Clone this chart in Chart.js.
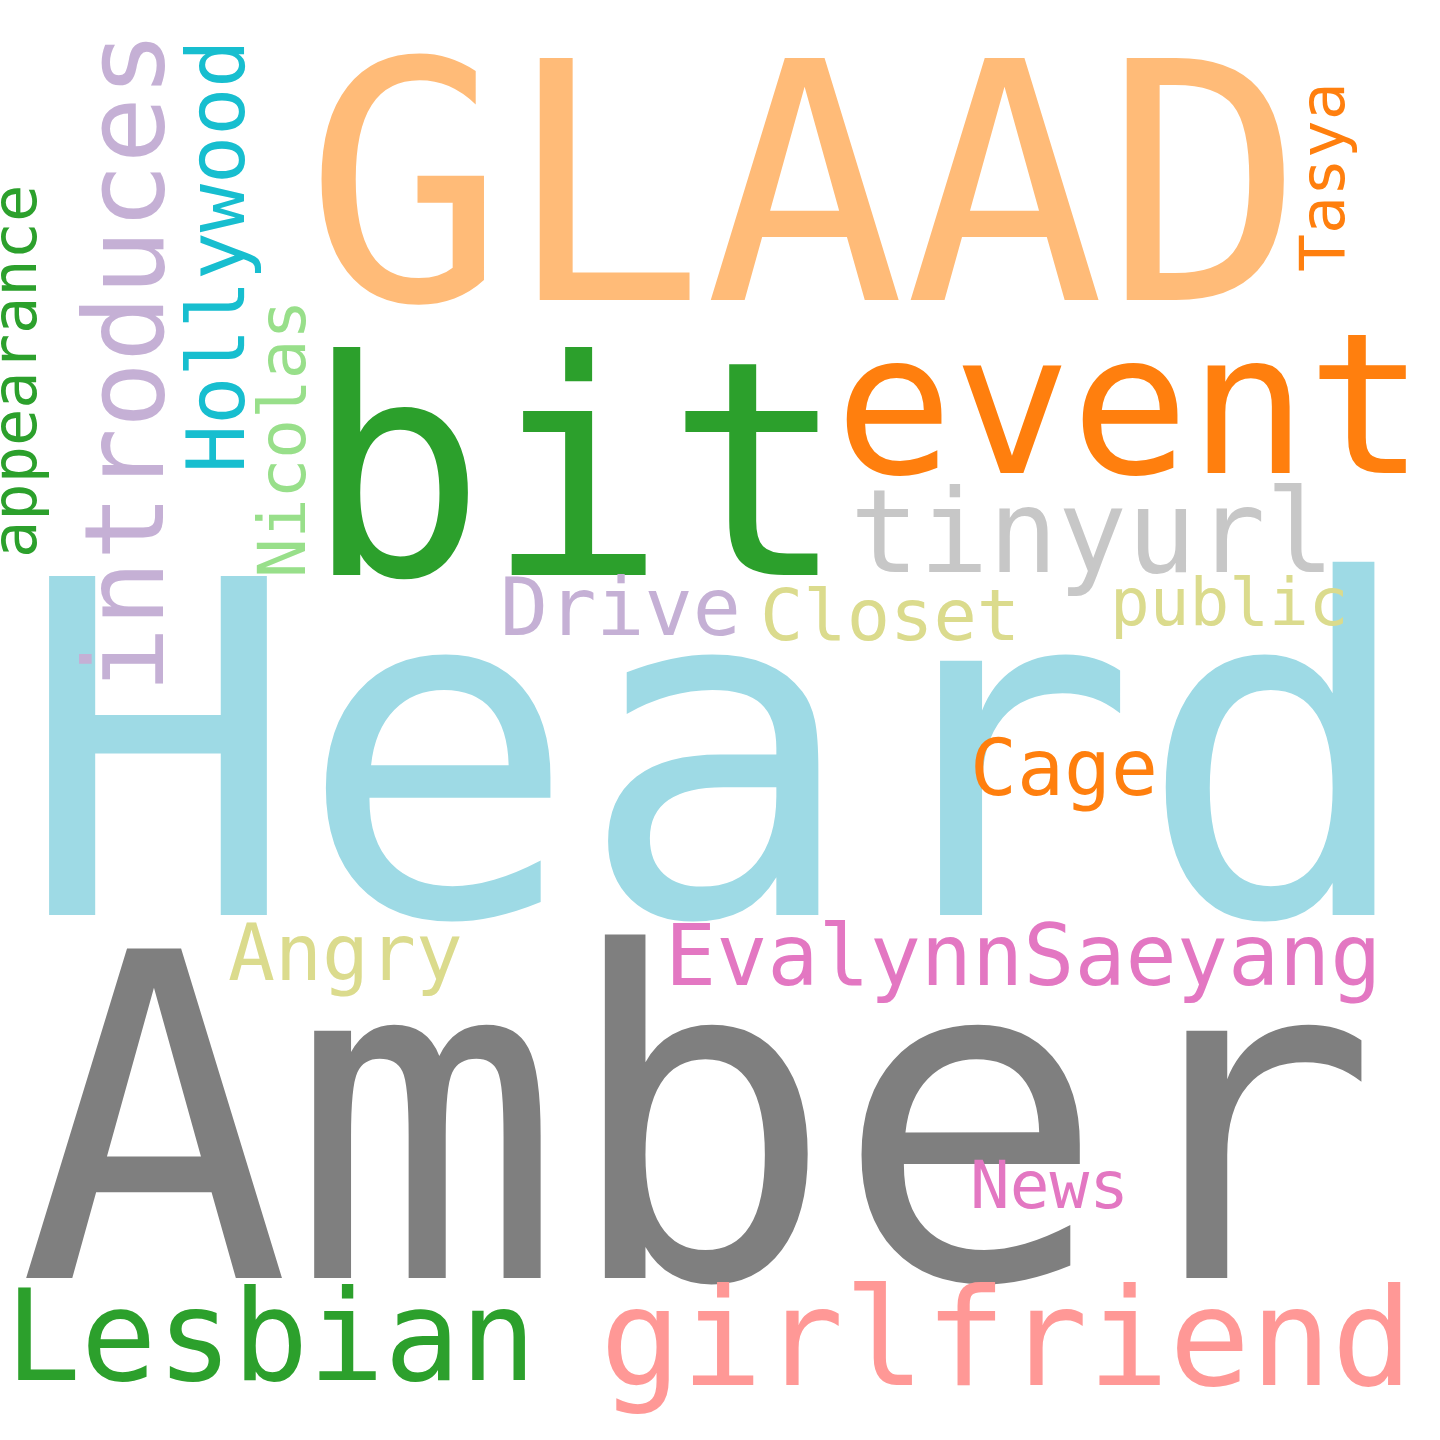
<!DOCTYPE html>
<html>
<head>
<meta charset="utf-8">
<script src="https://cdn.jsdelivr.net/npm/chart.js@4"></script>
<style>
  body { margin: 0; background: #fff; }
  #wrap { width: 1440px; height: 1440px; }
</style>
</head>
<body>
<div id="wrap"><canvas id="cloud"></canvas></div>
<script>
// word cloud data: word, weight (font size), anchor (left / baseline), rotation
let words   = ['Heard', 'Amber', 'GLAAD', 'bit', 'event', 'tinyurl', 'Drive', 'Closet', 'public', 'Cage',
               'Angry', 'EvalynnSaeyang', 'News', 'Lesbian', 'girlfriend',
               'introduces', 'Hollywood', 'appearance', 'Nicolas', 'Tasya']
let weights = [465, 452, 332, 300, 196, 115, 80, 72, 66, 78,
               78, 85, 66, 126, 135,
               110, 80, 62, 66, 63]
let xs      = [18, 18, 305, 305, 835, 850, 500, 760, 1110, 970,
               228, 665, 970, 5, 600,
               163, 244, 36, 305, 1344]
let ys      = [915, 1278, 300, 575, 473, 572, 635, 640, 625, 795,
               980, 985, 1208, 1380, 1385,
               693, 473, 558, 578, 272]
let vertical = [false, false, false, false, false, false, false, false, false, false,
                false, false, false, false, false,
                true, true, true, true, true]
let colours = ['#9edae5', '#7f7f7f', '#ffbb78', '#2ca02c', '#ff7f0e', '#c7c7c7', '#c5b0d5', '#dbdb8d', '#dbdb8d', '#ff7f0e',
               '#dbdb8d', '#e377c2', '#e377c2', '#2ca02c', '#ff9896',
               '#c5b0d5', '#17becf', '#2ca02c', '#98df8a', '#ff7f0e']

let wordPlugin = {
    id: 'words',
    afterDatasetsDraw(chart) {
        let ctx = chart.ctx
        let sx = chart.scales.x
        let sy = chart.scales.y
        ctx.save()
        ctx.textBaseline = 'alphabetic'
        ctx.textAlign = 'left'
        words.forEach((w, i) => {
            let px = sx.getPixelForValue(xs[i])
            let py = sy.getPixelForValue(ys[i])
            ctx.save()
            ctx.translate(px, py)
            if (vertical[i]) ctx.rotate(-Math.PI / 2)
            ctx.font = `${weights[i]}px "DejaVu Sans Mono"`
            ctx.fillStyle = colours[i]
            ctx.fillText(w, 0, 0)
            ctx.restore()
        })
        ctx.restore()
    }
}

new Chart(document.getElementById('cloud'), {
    type: 'scatter',
    data: {
        datasets: [{
            data: words.map((w, i) => ({ x: xs[i], y: ys[i] })),
            pointRadius: 0
        }]
    },
    options: {
        responsive: true,
        maintainAspectRatio: false,
        animation: false,
        layout: { padding: 0 },
        plugins: { legend: { display: false }, tooltip: { enabled: false } },
        scales: {
            x: { type: 'linear', min: 0, max: 1440, display: false },
            y: { type: 'linear', min: 0, max: 1440, reverse: true, display: false }
        }
    },
    plugins: [wordPlugin]
})
</script>
</body>
</html>
